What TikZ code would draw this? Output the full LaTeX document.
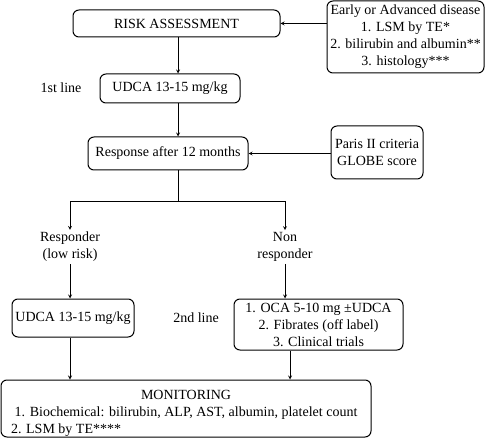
\documentclass[tikz,border=0pt]{standalone}
\usepackage{fontspec}
\setmainfont{Liberation Serif}
\usepackage{tikz}
\usetikzlibrary{positioning}
\setlength\parindent{0pt}

\begin{document}
\begin{tikzpicture}[
x=1pt, y=-1pt,
font=\fontsize{14}{17}\selectfont,
box/.style={rectangle, rounded corners=6pt, draw=black, line width=1pt, inner sep=1pt, align=center},
label/.style={inner sep=2pt, align=center},
arr/.style={-stealth, line width=0.8pt},
plain/.style={line width=0.8pt}]

\useasboundingbox (0,0) rectangle (486,438);

\node[box, minimum width=207pt, minimum height=27pt] (risk) at (176.5,23.5) {RISK ASSESSMENT};
\node[box, minimum width=157pt, minimum height=72pt] (early) at (405.5,37) {Early or Advanced disease\\ 1. LSM by TE*\\ 2. bilirubin and albumin**\\ 3. histology***};
\node[box, minimum width=140pt, minimum height=29pt] (udca1) at (170,88.5) {UDCA 13-15 mg/kg};
\node[label] (first) at (61,88) {1st line};
\node[box, minimum width=160pt, minimum height=33pt] (resp) at (168,153.5) {Response after 12 months};
\node[box, minimum width=92pt, minimum height=53pt] (paris) at (377,152.5) {Paris II criteria\\ GLOBE score};

\coordinate (trunk) at (178,0);
\coordinate (split) at (178,201);
\coordinate (lb) at (70,201);
\coordinate (rb) at (285,201);

\node[label] (yes) at (70,247) {Responder\\ (low risk)};
\node[label] (no) at (285,247) {Non\\ responder};
\node[box, minimum width=122pt, minimum height=38pt] (udca2) at (73,318) {UDCA 13-15 mg/kg};
\node[label] (second) at (196,318) {2nd line};
\node[box, minimum width=169pt, minimum height=51pt] (ocab) at (318.5,324.5) {1. OCA 5-10 mg ±UDCA\\ 2. Fibrates (off label)\\ 3. Clinical trials};
\node[box, minimum width=370pt, minimum height=57pt, text width=350pt, inner xsep=10pt, inner ysep=0pt, align=none] (mon) at (186,408.5) {\centering\rule{0pt}{19pt}MONITORING\\ 1. Biochemical: bilirubin, ALP, AST, albumin, platelet count\par\raggedright 2. LSM by TE****\par};
\coordinate (monl) at (70,0);
\coordinate (monr) at (290,0);

\draw[arr](early.west |- risk.east)--(risk.east);
\draw[arr](risk.south -| trunk)--(udca1.north -| trunk);
\draw[arr](udca1.south -| trunk)--(resp.north -| trunk);
\draw[arr](paris.west |- resp.east)--(resp.east);

\draw[plain](resp.south -| split)--(split);
\draw[plain](lb)--(rb);
\draw[arr](lb)--(yes.north -| lb);
\draw[arr](rb)--(no.north -| rb);

\draw[arr](yes.south -| lb)--(udca2.north -| lb);
\draw[arr](no.south -| rb)--(ocab.north -| rb);

\draw[arr](udca2.south -| monl)--(mon.north -| monl);
\draw[arr](ocab.south -| monr)--(mon.north -| monr);
\end{tikzpicture}
\end{document}
